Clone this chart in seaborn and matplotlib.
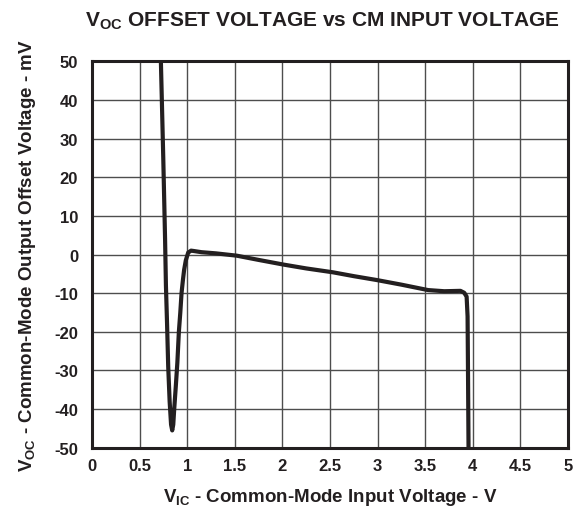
import matplotlib
matplotlib.use("Agg")
import matplotlib.pyplot as plt
import seaborn as sns
import pandas as pd

# Common-mode output offset voltage versus common-mode input voltage
vic = [0.723, 0.735, 0.748, 0.758, 0.767, 0.776, 0.788, 0.80, 0.815, 0.83,
       0.842, 0.853, 0.863, 0.88, 0.896, 0.912, 0.927, 0.94, 0.955, 0.967,
       0.985, 1.01, 1.04, 1.07, 1.15, 1.3, 1.52, 1.75, 2.01, 2.25, 2.53,
       2.75, 2.99, 3.25, 3.53, 3.7, 3.87, 3.91, 3.935, 3.945, 3.95, 3.955]
voc = [50, 38, 25, 14, 4, -8, -18, -29, -38, -44,
       -45.5, -44, -40, -34, -28, -20, -15, -10, -6.5, -4,
       -1.5, 0.5, 1.0, 0.9, 0.6, 0.3, -0.3, -1.4, -2.6, -3.6, -4.6,
       -5.6, -6.6, -7.8, -9.2, -9.5, -9.4, -9.9, -10.9, -16, -32, -50]

x_ticks = [0, 0.5, 1, 1.5, 2, 2.5, 3, 3.5, 4, 4.5, 5]
x_tick_labels = ["0", "0.5", "1", "1.5", "2", "2.5", "3", "3.5", "4", "4.5", "5"]
y_ticks = [50, 40, 30, 20, 10, 0, -10, -20, -30, -40, -50]

sns.set_theme(style="white")
plt.rcParams["font.family"] = ["Liberation Sans", "DejaVu Sans"]
plt.rcParams["font.weight"] = "bold"
plt.rcParams["mathtext.fontset"] = "custom"
plt.rcParams["mathtext.rm"] = "Liberation Sans:bold"
plt.rcParams["mathtext.bf"] = "Liberation Sans:bold"
plt.rcParams["mathtext.it"] = "Liberation Sans:bold"

ink = "#231f20"
df = pd.DataFrame({"vic": vic, "voc": voc})

fig = plt.figure(figsize=(5.79, 5.10), dpi=100)
ax = fig.add_axes([0.159, 0.12, 0.822, 0.758])

sns.lineplot(data=df, x="vic", y="voc", sort=False, estimator=None,
             color=ink, linewidth=3.0, ax=ax)

ax.set_xlim(0, 5)
ax.set_ylim(-50, 50)
ax.set_xticks(x_ticks)
ax.set_xticklabels(x_tick_labels)
ax.set_yticks(y_ticks)
ax.set_yticklabels([str(v) for v in y_ticks])
ax.tick_params(axis="both", length=0, labelsize=12, colors=ink)
ax.tick_params(axis="x", pad=7)
ax.tick_params(axis="y", pad=10)
for lbl in ax.get_xticklabels() + ax.get_yticklabels():
    lbl.set_fontweight("bold")

ax.grid(True, color="#4d4d4d", linewidth=1.0)
ax.set_axisbelow(True)
for sp in ax.spines.values():
    sp.set_visible(True)
    sp.set_color(ink)
    sp.set_linewidth(2.2)

ax.set_xlabel(r"V$_{\rm IC}$ - Common-Mode Input Voltage - V",
              fontsize=13.5, fontweight="bold", color=ink, labelpad=10)
ax.set_ylabel(r"V$_{\rm OC}$ - Common-Mode Output Offset Voltage - mV",
              fontsize=13.5, fontweight="bold", color=ink)
ax.yaxis.set_label_coords(-0.114, 0.5)

fig.text(0.557, 1 - 27 / 510,
         r"V$_{\rm OC}$ OFFSET VOLTAGE vs CM INPUT VOLTAGE",
         ha="center", va="baseline", fontsize=15, fontweight="bold", color=ink)

fig.savefig("out.png", dpi=100)
